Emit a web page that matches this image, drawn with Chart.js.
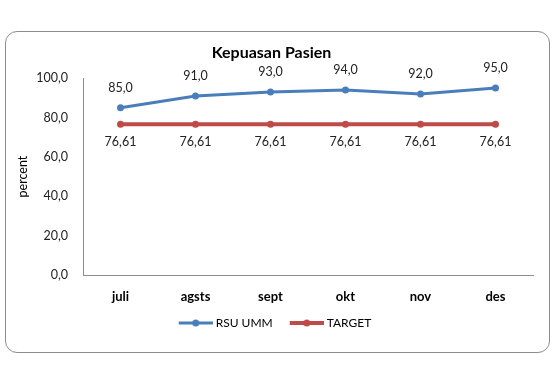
<!DOCTYPE html>
<html><head><meta charset="utf-8">
<script src="https://cdn.jsdelivr.net/npm/chart.js@4"></script>
<style>
html,body{margin:0;padding:0;background:#fff;}
#wrap{position:relative;width:560px;height:370px;}
#box{position:absolute;left:5px;top:31px;width:545px;height:322px;border:1px solid #8c8c8c;border-radius:12px;box-sizing:border-box;}
canvas{position:absolute;left:0;top:0;}
</style></head>
<body><div id="wrap"><div id="box"></div><canvas id="c" width="560" height="370"></canvas></div>
<script>
const categories = ['juli','agsts','sept','okt','nov','des'];
const rsuUmm = [85.0, 91.0, 93.0, 94.0, 92.0, 95.0];
const target = [76.61, 76.61, 76.61, 76.61, 76.61, 76.61];
const yTicks = [0, 20, 40, 60, 80, 100];
const titleText = 'Kepuasan Pasien';
const yTitle = 'percent';

const FONT = 'Lato, "Open Sans", sans-serif';
const fmt1 = v => v.toFixed(1).replace('.', ',');
const fmt2 = v => v.toFixed(2).replace('.', ',');

function legendMarker(color, lw) {
  const c = document.createElement('canvas');
  c.width = 44; c.height = 10;
  const x = c.getContext('2d');
  x.strokeStyle = color; x.lineWidth = lw;
  x.beginPath(); x.moveTo(10, 5); x.lineTo(44, 5); x.stroke();
  x.fillStyle = color;
  x.beginPath(); x.arc(27, 5, 3.5, 0, Math.PI * 2); x.fill();
  return c;
}

const labelPlugin = {
  id: 'dataLabels',
  afterDatasetsDraw(chart) {
    const ctx = chart.ctx;
    ctx.save();
    ctx.font = '12.5px ' + FONT;
    ctx.fillStyle = '#222';
    ctx.textAlign = 'center';
    ctx.textBaseline = 'middle';
    chart.data.datasets.forEach((ds, i) => {
      const meta = chart.getDatasetMeta(i);
      meta.data.forEach((pt, j) => {
        const v = ds.data[j];
        if (i === 0) ctx.fillText(fmt1(v), pt.x, pt.y - 20);
        else ctx.fillText(fmt2(v), pt.x, pt.y + 18);
      });
    });
    ctx.restore();
  }
};

const colors = ['#4A7EBB', '#BE4B48'];
const widths = [3, 4];

new Chart(document.getElementById('c'), {
  type: 'line',
  data: {
    labels: categories,
    datasets: [
      { label: 'RSU UMM', data: rsuUmm, borderColor: colors[0], backgroundColor: colors[0],
        borderWidth: widths[0], pointRadius: 3.5, pointBorderWidth: 0, pointBackgroundColor: colors[0], tension: 0 },
      { label: 'TARGET', data: target, borderColor: colors[1], backgroundColor: colors[1],
        borderWidth: widths[1], pointRadius: 3.5, pointBorderWidth: 0, pointBackgroundColor: colors[1], tension: 0 }
    ]
  },
  options: {
    responsive: false,
    animation: false,
    devicePixelRatio: 1,
    layout: { padding: { top: 43, left: 10, right: 27, bottom: 31 } },
    plugins: {
      title: { display: true, text: titleText, color: '#000',
        font: { family: FONT, size: 16, weight: 'bold' }, padding: { top: 0, bottom: 16 } },
      legend: { position: 'bottom',
        labels: { color: '#000', font: { family: FONT, size: 12 }, usePointStyle: true, pointStyleWidth: 38, boxHeight: 10, padding: 10,
          generateLabels(chart) {
            return chart.data.datasets.map((ds, i) => ({
              text: ds.label, fillStyle: ds.borderColor, strokeStyle: ds.borderColor,
              lineWidth: 0, datasetIndex: i, hidden: false, pointStyle: legendMarker(colors[i], widths[i])
            }));
          } } },
      tooltip: { enabled: false }
    },
    scales: {
      x: {
        offset: true,
        grid: { display: false, drawTicks: false },
        border: { display: true, color: '#8c8c8c', width: 1 },
        ticks: { color: '#000', font: { family: FONT, size: 13, weight: 'bold' }, padding: 14 },
        afterFit(s) { s.height = 32; }
      },
      y: {
        min: 0, max: 100,
        afterBuildTicks(s) { s.ticks = yTicks.map(v => ({ value: v })); },
        grid: { display: false, drawTicks: false },
        border: { display: true, color: '#8c8c8c', width: 1 },
        ticks: { color: '#222', font: { family: FONT, size: 12.5 }, padding: 15, callback: v => fmt1(v) },
        title: { display: true, text: yTitle, color: '#000', font: { family: FONT, size: 12.5 }, padding: { top: 5, bottom: 0 } },
        afterFit(s) { s.width = 73; }
      }
    }
  },
  plugins: [labelPlugin]
});
</script></body></html>
